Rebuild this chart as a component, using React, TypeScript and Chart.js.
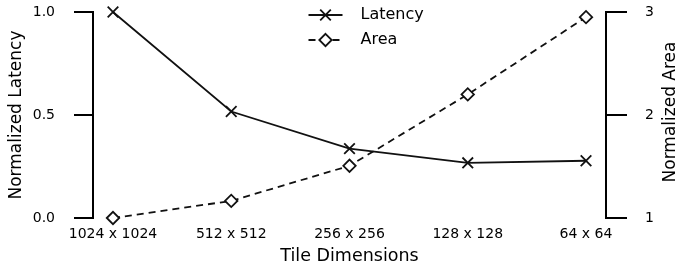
import React, { useEffect, useRef } from 'react';
import { Chart, registerables } from 'chart.js';

Chart.register(...registerables);

const CATEGORIES = ['1024 x 1024', '512 x 512', '256 x 256', '128 x 128', '64 x 64'];
const LATENCY = [1.0, 0.517, 0.337, 0.268, 0.278];
const AREA = [1.0, 1.166, 1.507, 2.2, 2.95];
const LATENCY_TICKS = [0, 0.5, 1.0];
const AREA_TICKS = [1, 2, 3];
const SERIES_NAMES = ['Latency', 'Area'];
const X_TITLE = 'Tile Dimensions';
const Y_TITLE = 'Normalized Latency';
const Y2_TITLE = 'Normalized Area';

const FONT = "'DejaVu Sans', sans-serif";
const INK = '#000';
const LINE = '#111';

const overlayPlugin = {
  id: 'overlay',
  afterDraw(chart: any) {
    const ctx = chart.ctx as CanvasRenderingContext2D;
    const area = chart.chartArea;
    const cx = (area.left + area.right) / 2;
    ctx.save();
    // legend
    const rows = [area.top + 3, area.top + 28];
    chart.data.datasets.forEach((ds: any, i: number) => {
      const y = rows[i];
      const lx0 = cx - 41;
      const lx1 = cx - 7;
      const mx = (lx0 + lx1) / 2;
      ctx.save();
      ctx.strokeStyle = ds.borderColor;
      ctx.lineWidth = ds.borderWidth;
      ctx.setLineDash(ds.borderDash || []);
      ctx.beginPath();
      ctx.moveTo(lx0, y);
      ctx.lineTo(lx1, y);
      ctx.stroke();
      ctx.setLineDash([]);
      ctx.lineWidth = ds.pointBorderWidth;
      const r = ds.pointRadius;
      if (ds.pointStyle === 'crossRot') {
        const d = r * Math.SQRT1_2;
        ctx.beginPath();
        ctx.moveTo(mx - d, y - d);
        ctx.lineTo(mx + d, y + d);
        ctx.moveTo(mx - d, y + d);
        ctx.lineTo(mx + d, y - d);
        ctx.stroke();
      } else {
        ctx.fillStyle = '#fff';
        ctx.beginPath();
        ctx.moveTo(mx, y - r);
        ctx.lineTo(mx + r, y);
        ctx.lineTo(mx, y + r);
        ctx.lineTo(mx - r, y);
        ctx.closePath();
        ctx.fill();
        ctx.stroke();
      }
      ctx.restore();
      ctx.fillStyle = INK;
      ctx.font = `16px ${FONT}`;
      ctx.textAlign = 'left';
      ctx.textBaseline = 'middle';
      ctx.fillText(ds.label, cx + 11, y);
    });
    // right axis title (reads bottom to top)
    ctx.save();
    ctx.fillStyle = INK;
    ctx.font = `17px ${FONT}`;
    ctx.textAlign = 'center';
    ctx.textBaseline = 'alphabetic';
    ctx.translate(chart.width - 0, (area.top + area.bottom) / 2 - 3);
    ctx.rotate(-Math.PI / 2);
    ctx.fillText(Y2_TITLE, 0, 0);
    ctx.restore();
    ctx.restore();
  },
};

export default function App() {
  const canvasRef = useRef<HTMLCanvasElement | null>(null);

  useEffect(() => {
    const canvas = canvasRef.current;
    if (!canvas) return;
    const chart = new Chart(canvas, {
      type: 'line',
      data: {
        datasets: [
          {
            label: SERIES_NAMES[0],
            data: LATENCY.map((v, i) => ({ x: i, y: v })),
            yAxisID: 'y',
            borderColor: LINE,
            borderWidth: 1.8,
            pointStyle: 'crossRot',
            pointRadius: 7.5,
            pointBorderWidth: 1.8,
            pointBorderColor: LINE,
            pointBackgroundColor: LINE,
            tension: 0,
            clip: false,
          },
          {
            label: SERIES_NAMES[1],
            data: AREA.map((v, i) => ({ x: i, y: v })),
            yAxisID: 'y2',
            borderColor: LINE,
            borderWidth: 1.8,
            borderDash: [7, 5],
            pointStyle: 'rectRot',
            pointRadius: 6.2,
            pointBorderWidth: 1.8,
            pointBorderColor: LINE,
            pointBackgroundColor: '#fff',
            tension: 0,
            clip: false,
          },
        ],
      },
      options: {
        responsive: false,
        animation: false,
        layout: { padding: { top: 12, left: 0, right: 0, bottom: 0 } },
        plugins: {
          legend: { display: false },
          tooltip: { enabled: false },
        },
        scales: {
          x: {
            type: 'linear',
            min: -0.169,
            max: CATEGORIES.length - 1 + 0.169,
            afterBuildTicks: (scale: any) => {
              scale.ticks = CATEGORIES.map((_, i) => ({ value: i }));
            },
            afterFit: (scale: any) => {
              scale.height = 52;
              scale.paddingLeft = 0;
              scale.paddingRight = 0;
            },
            grid: { display: false, drawTicks: false },
            border: { display: false },
            ticks: {
              autoSkip: false,
              maxRotation: 0,
              padding: 8,
              color: INK,
              font: { family: FONT, size: 14 },
              callback: (v: any) => CATEGORIES[Math.round(Number(v))] ?? '',
            },
            title: {
              display: true,
              text: X_TITLE,
              color: INK,
              font: { family: FONT, size: 17.5 },
              padding: { top: 0, bottom: 3 },
            },
          },
          y: {
            type: 'linear',
            position: 'left',
            min: 0,
            max: 1,
            afterBuildTicks: (scale: any) => {
              scale.ticks = LATENCY_TICKS.map((v) => ({ value: v }));
            },
            afterFit: (scale: any) => {
              scale.width = 93;
              scale.paddingTop = 0;
              scale.paddingBottom = 0;
            },
            grid: {
              display: true,
              drawOnChartArea: false,
              drawTicks: true,
              tickLength: 19,
              tickWidth: 2,
              tickColor: INK,
              color: INK,
              lineWidth: 2,
            },
            border: { display: true, color: INK, width: 2 },
            ticks: {
              padding: 19,
              color: INK,
              font: { family: FONT, size: 14 },
              callback: (v: any) => Number(v).toFixed(1),
            },
            title: {
              display: true,
              text: Y_TITLE,
              color: INK,
              font: { family: FONT, size: 17 },
              padding: { top: 6, bottom: 0 },
            },
          },
          y2: {
            type: 'linear',
            position: 'right',
            min: 1,
            max: 3,
            afterBuildTicks: (scale: any) => {
              scale.ticks = AREA_TICKS.map((v) => ({ value: v }));
            },
            afterFit: (scale: any) => {
              scale.width = 69;
              scale.paddingTop = 0;
              scale.paddingBottom = 0;
            },
            grid: {
              display: true,
              drawOnChartArea: false,
              drawTicks: true,
              tickLength: 21,
              tickWidth: 2,
              tickColor: INK,
              color: INK,
              lineWidth: 2,
            },
            border: { display: true, color: INK, width: 2 },
            ticks: {
              padding: 18,
              color: INK,
              font: { family: FONT, size: 14 },
              callback: (v: any) => String(Math.round(Number(v))),
            },
            title: { display: false, text: Y2_TITLE },
          },
        },
      },
      plugins: [overlayPlugin],
    });
    return () => chart.destroy();
  }, []);

  return (
    <div style={{ position: 'fixed', left: 0, top: 0, width: 675, height: 270, background: '#fff' }}>
      <canvas ref={canvasRef} width={675} height={270} style={{ display: 'block', width: 675, height: 270 }} />
    </div>
  );
}
